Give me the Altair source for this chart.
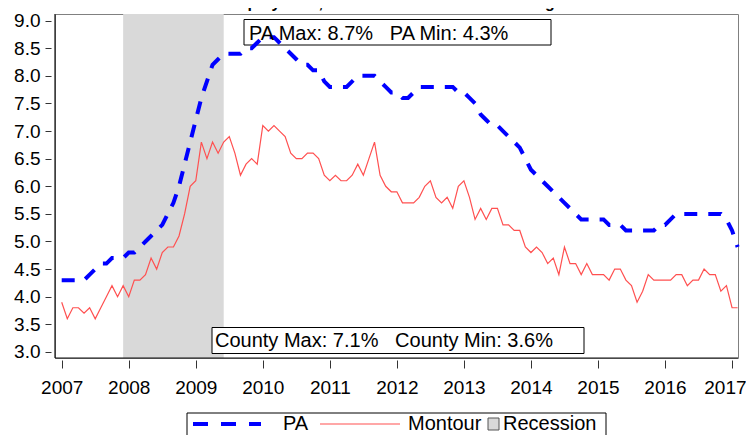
import altair as alt
import pandas as pd

# ---------------- data ----------------
title_text = "Unemployment, Montour vs. Statewide Average"
series_names = ["PA", "Montour", "Recession"]
start_year = 2007  # monthly series start in January 2007

pa_rate = [
    4.3, 4.3, 4.3, 4.3, 4.3, 4.4, 4.5, 4.6, 4.6, 4.7, 4.7, 4.7,   # 2007
    4.8, 4.8, 4.9, 5.0, 5.1, 5.2, 5.3, 5.5, 5.7, 6.0, 6.4, 6.8,   # 2008
    7.2, 7.6, 7.9, 8.2, 8.3, 8.4, 8.4, 8.4, 8.4, 8.5, 8.5, 8.6,   # 2009
    8.7, 8.7, 8.7, 8.6, 8.5, 8.4, 8.3, 8.2, 8.2, 8.1, 8.1, 7.9,   # 2010
    7.8, 7.8, 7.8, 7.8, 7.9, 8.0, 8.0, 8.0, 8.0, 7.9, 7.8, 7.7,   # 2011
    7.7, 7.6, 7.6, 7.7, 7.8, 7.8, 7.8, 7.8, 7.8, 7.8, 7.8, 7.7,   # 2012
    7.7, 7.6, 7.5, 7.3, 7.2, 7.1, 7.1, 7.0, 6.9, 6.8, 6.7, 6.5,   # 2013
    6.3, 6.2, 6.1, 6.0, 5.9, 5.8, 5.7, 5.6, 5.5, 5.4, 5.4, 5.4,   # 2014
    5.4, 5.4, 5.3, 5.3, 5.3, 5.2, 5.2, 5.2, 5.2, 5.2, 5.2, 5.3,   # 2015
    5.3, 5.4, 5.5, 5.5, 5.5, 5.5, 5.5, 5.5, 5.5, 5.5, 5.5, 5.4,   # 2016
    5.2, 4.9,                                                      # 2017
]

montour_rate = [
    3.9, 3.6, 3.8, 3.8, 3.7, 3.8, 3.6, 3.8, 4.0, 4.2, 4.0, 4.2,   # 2007
    4.0, 4.3, 4.3, 4.4, 4.7, 4.5, 4.8, 4.9, 4.9, 5.1, 5.5, 6.0,   # 2008
    6.1, 6.8, 6.5, 6.8, 6.6, 6.8, 6.9, 6.6, 6.2, 6.4, 6.5, 6.4,   # 2009
    7.1, 7.0, 7.1, 7.0, 6.9, 6.6, 6.5, 6.5, 6.6, 6.6, 6.5, 6.2,   # 2010
    6.1, 6.2, 6.1, 6.1, 6.2, 6.4, 6.2, 6.5, 6.8, 6.2, 6.0, 5.9,   # 2011
    5.9, 5.7, 5.7, 5.7, 5.8, 6.0, 6.1, 5.8, 5.7, 5.8, 5.6, 6.0,   # 2012
    6.1, 5.8, 5.4, 5.6, 5.4, 5.6, 5.6, 5.3, 5.3, 5.2, 5.2, 4.9,   # 2013
    4.8, 4.9, 4.8, 4.6, 4.7, 4.4, 4.9, 4.6, 4.6, 4.4, 4.6, 4.4,   # 2014
    4.4, 4.4, 4.3, 4.5, 4.5, 4.3, 4.2, 3.9, 4.1, 4.4, 4.3, 4.3,   # 2015
    4.3, 4.3, 4.4, 4.4, 4.2, 4.3, 4.3, 4.5, 4.4, 4.4, 4.1, 4.2,   # 2016
    3.8, 3.8,                                                      # 2017
]

recession_start = (2007, 12)   # (year, month)
recession_end = (2009, 6)

NB = "\u00a0"
pa_note = "PA Max: 8.7%" + NB * 3 + "PA Min: 4.3%"
county_note = "County Max: 7.1%" + NB * 3 + "County Min: 3.6%"

x_ticks = list(range(2007, 2018))
y_ticks = [3.0, 3.5, 4.0, 4.5, 5.0, 5.5, 6.0, 6.5, 7.0, 7.5, 8.0, 8.5, 9.0]
x_domain = [2006.9, 2017.089]
y_domain = [2.89, 9.12]

# ---------------- tables ----------------
n = len(pa_rate)
t = [start_year + i / 12 for i in range(n)]
pa_df = pd.DataFrame({"t": t, "rate": pa_rate})
mo_df = pd.DataFrame({"t": t, "rate": montour_rate})
rec_df = pd.DataFrame({
    "start": [recession_start[0] + (recession_start[1] - 1) / 12],
    "end": [recession_end[0] + (recession_end[1] - 1) / 12],
})

FONT = "Liberation Sans"
W, H = 683, 344

x_scale = alt.Scale(domain=x_domain, nice=False, zero=False)
y_scale = alt.Scale(domain=y_domain, nice=False, zero=False)

x_axis = alt.Axis(values=x_ticks, format="d", domain=False, grid=False,
                  tickSize=8, tickColor="#333333", tickWidth=1, offset=2,
                  labelFont=FONT, labelFontSize=19, labelColor="black",
                  labelPadding=10, labelFlush=6.3, labelFlushOffset=14,
                  labelOverlap=False, title=None)
y_axis = alt.Axis(values=y_ticks, format=".1f", domain=False, grid=False,
                  tickSize=6, tickColor="#333333", tickWidth=1, offset=4,
                  labelFont=FONT, labelFontSize=19, labelColor="black",
                  labelPadding=5, labelFlush=False, labelOverlap=False, title=None)

X = alt.X("t:Q", scale=x_scale, axis=x_axis)
Y = alt.Y("rate:Q", scale=y_scale, axis=y_axis)

recession = alt.Chart(rec_df).mark_rect(color="#D9D9D9").encode(
    x=alt.X("start:Q", scale=x_scale, axis=x_axis), x2="end:Q",
    y=alt.value(0), y2=alt.value(H))


def one(label):
    return pd.DataFrame({"label": [label]})


def box(label, x0, x1, y0, y1):
    return alt.Chart(one(label)).mark_rect(fill="white", stroke="black", strokeWidth=1).encode(
        x=alt.value(x0), x2=alt.value(x1), y=alt.value(y0), y2=alt.value(y1))


def text(label, x, y, size=20, weight="normal", align="left"):
    return alt.Chart(one(label)).mark_text(
        align=align, baseline="alphabetic", font=FONT, fontSize=size,
        fontWeight=weight, color="black").encode(
        text="label:N", x=alt.value(x), y=alt.value(y))


pa_box = box(pa_note, 189, 496, 5.5, 31)
county_box = box(county_note, 157, 529, 313.5, 339.5)

montour_line = alt.Chart(mo_df).mark_line(color="#FF5050", strokeWidth=1.2).encode(x=X, y=Y)
pa_line = alt.Chart(pa_df).mark_line(color="#0000FF", strokeWidth=4,
                                     strokeDash=[13, 11], strokeCap="butt").encode(x=X, y=Y)

pa_text = text(pa_note, 194, 25.5)
county_text = text(county_note, 160, 333)

left_frame = alt.Chart(one("l")).mark_rule(color="#111111", strokeWidth=1.2).encode(
    x=alt.value(0), y=alt.value(0), y2=alt.value(H))
bottom_frame = alt.Chart(one("b")).mark_rule(color="#111111", strokeWidth=1.2).encode(
    x=alt.value(0), x2=alt.value(W), y=alt.value(H))

# legend (bottom, boxed)
leg_box = box("legend", 132, 551, 399, 440)
leg_pa = alt.Chart(one(series_names[0])).mark_rule(
    color="#0000FF", strokeWidth=4, strokeDash=[15, 13], strokeCap="butt").encode(
    x=alt.value(138), x2=alt.value(206), y=alt.value(410))
leg_pa_t = text(series_names[0], 228, 416)
leg_mo = alt.Chart(one(series_names[1])).mark_rule(color="#FF5050", strokeWidth=1.2).encode(
    x=alt.value(265), x2=alt.value(345), y=alt.value(410))
leg_mo_t = text(series_names[1], 353, 416)
leg_rec = alt.Chart(one(series_names[2])).mark_rect(
    fill="#D9D9D9", stroke="#555555", strokeWidth=1).encode(
    x=alt.value(433), x2=alt.value(444), y=alt.value(404), y2=alt.value(416))
leg_rec_t = text(series_names[2], 448, 416)

title = text(title_text, 148, -6, size=16, weight="bold")

chart = alt.layer(
    recession, pa_box, county_box, montour_line, pa_line, pa_text, county_text,
    left_frame, bottom_frame,
    leg_box, leg_pa, leg_pa_t, leg_mo, leg_mo_t, leg_rec, leg_rec_t, title,
).properties(
    width=W, height=H,
    padding={"left": 47, "top": 6, "right": 8, "bottom": 80},
    autosize=alt.AutoSizeParams(type="none"),
).configure_view(stroke="#808080", strokeWidth=1)

chart.save("out.html", embed_options={"renderer": "svg", "actions": False})
